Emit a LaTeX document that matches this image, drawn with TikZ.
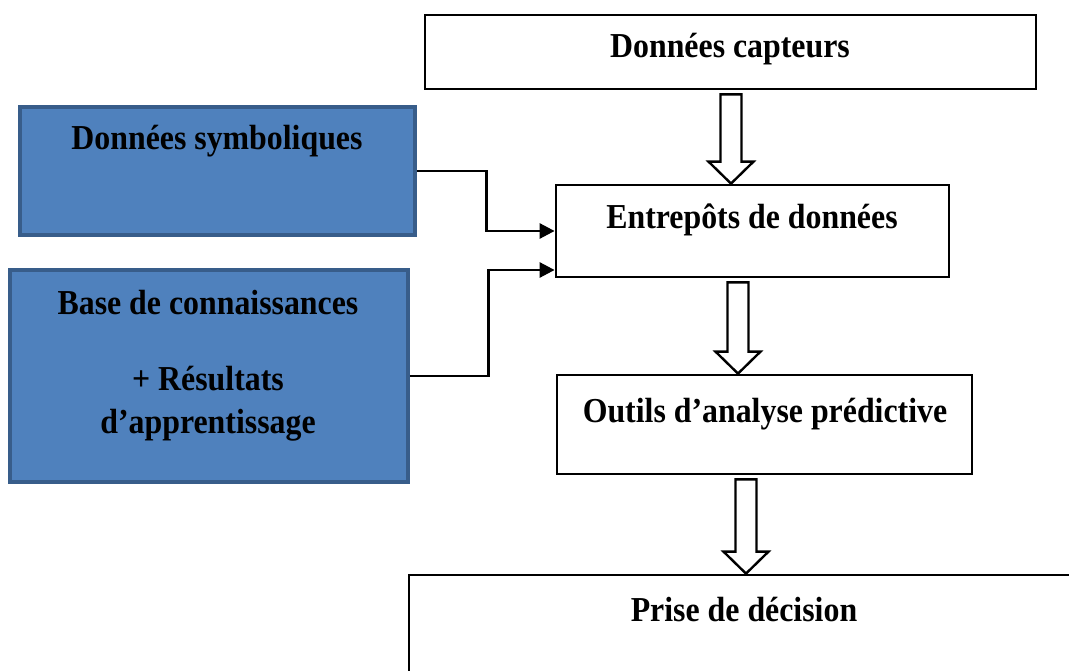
\documentclass[tikz,border=0pt]{standalone}
\usepackage{fontspec}
\setmainfont{Liberation Serif}[FakeStretch=0.91]
\usetikzlibrary{arrows.meta,calc}
\definecolor{boxblue}{RGB}{79,129,189}
\definecolor{boxblueedge}{RGB}{56,93,138}
\tikzset{
  whitebox/.style={draw=black, line width=2.8pt, fill=white, rectangle, inner sep=0pt},
  bluebox/.style={draw=boxblueedge, line width=3.5pt, fill=boxblue, rectangle, inner sep=0pt},
  lbl/.style={font=\fontsize{35pt}{42pt}\selectfont\bfseries, anchor=base, inner sep=0pt},
  conn/.style={draw=black, line width=2.8pt, -{Triangle[length=15pt,width=15pt]}},
  harrow/.style={draw=black, line width=2.4pt, fill=white, line join=miter}
}
\newcommand\hollowdown[3]{%
  \draw[harrow] let \p1=(#2), \p2=(#3) in
    ({#1pt-10.5pt},{\y1-4pt}) -- ({#1pt-10.5pt},{\y2+22pt}) -- ({#1pt-22.5pt},{\y2+22pt}) --
    ({#1pt},{\y2}) -- ({#1pt+22.5pt},{\y2+22pt}) -- ({#1pt+10.5pt},{\y2+22pt}) --
    ({#1pt+10.5pt},{\y1-4pt}) -- cycle;}
\begin{document}
\begin{tikzpicture}[x=1pt,y=-1pt]
\useasboundingbox (0,0) rectangle (1069,671);
\fill[white] (0,0) rectangle (1069,671);
% boxes
\node[whitebox, minimum width=611, minimum height=74] (cap) at (730.5,52) {};
\node[bluebox, minimum width=395, minimum height=128] (sym) at (217.5,171) {};
\node[bluebox, minimum width=398, minimum height=212] (base) at (209,376) {};
\node[whitebox, minimum width=393, minimum height=92] (ent) at (752.5,231) {};
\node[whitebox, minimum width=415, minimum height=99] (out) at (764.5,424.5) {};
\node[whitebox, minimum width=700, minimum height=130] (dec) at (759,640) {};
% labels
\node[lbl] (capT) at (730,58) {Données capteurs};
\node[lbl] (symT) at (217,150) {Données symboliques};
\node[lbl] (baseT1) at (208,315) {Base de connaissances};
\node[lbl] (baseT2) at (208,390) {+ Résultats};
\node[lbl] (baseT3) at (208,433) {d’apprentissage};
\node[lbl] (entT) at (752,229) {Entrepôts de données};
\node[lbl] (outT) at (765,422) {Outils d’analyse prédictive};
\node[lbl] (decT) at (744,621) {Prise de décision};
% block arrows
\hollowdown{731}{cap.south}{ent.north}
\hollowdown{738}{ent.south}{out.north}
\hollowdown{746}{out.south}{dec.north}
% connectors
\draw[conn] (sym.east) -- ++(70,0) |- (ent.west);
\draw[conn] (base.east) -- ++(79,0) |- ([yshift=-39pt]ent.west);
\end{tikzpicture}
\end{document}
